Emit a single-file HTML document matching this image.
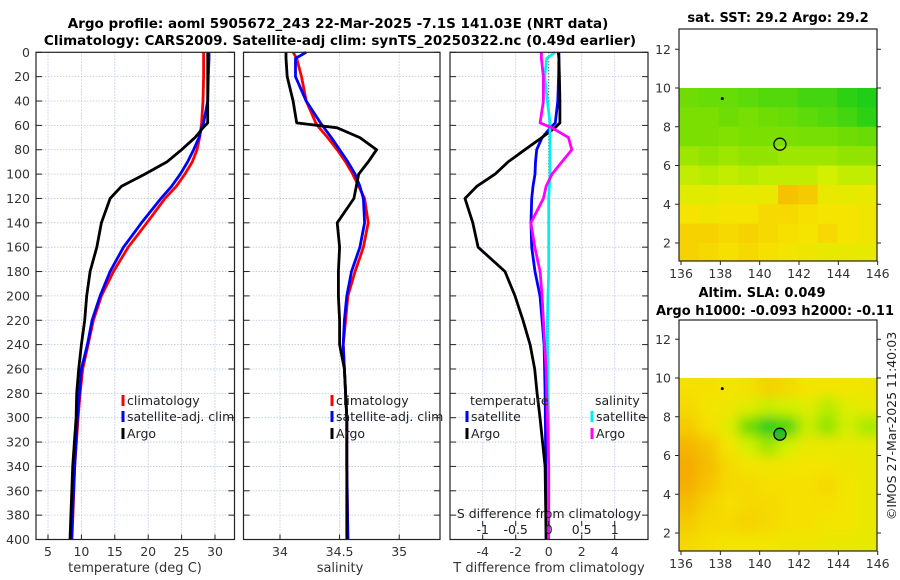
<!DOCTYPE html>
<html><head><meta charset="utf-8">
<style>
html,body{margin:0;padding:0;background:#fff;}
svg{display:block;font-family:"DejaVu Sans","Liberation Sans",sans-serif;}
</style></head>
<body>
<svg id="fig" width="900" height="580" viewBox="0 0 900 580" xmlns="http://www.w3.org/2000/svg">
<defs>
<filter id="blur" x="-10%" y="-10%" width="120%" height="120%"><feGaussianBlur stdDeviation="6"/></filter>
<clipPath id="clipTop"><rect x="679" y="88" width="198" height="173"/></clipPath>
<clipPath id="clipBot"><rect x="679" y="378" width="198" height="173"/></clipPath>
</defs>
<text x="338" y="28" text-anchor="middle" font-weight="bold" font-size="13.5">Argo profile: aoml 5905672_243 22-Mar-2025 -7.1S 141.03E (NRT data)</text>
<text x="340" y="45" text-anchor="middle" font-weight="bold" font-size="13.5">Climatology: CARS2009. Satellite-adj clim: synTS_20250322.nc (0.49d earlier)</text>
<text x="778" y="22" text-anchor="middle" font-weight="bold" font-size="13">sat. SST: 29.2 Argo: 29.2</text>
<text x="762" y="297" text-anchor="middle" font-weight="bold" font-size="13">Altim. SLA: 0.049</text>
<text x="775" y="315" text-anchor="middle" font-weight="bold" font-size="13">Argo h1000: -0.093 h2000: -0.11</text>
<text transform="translate(896,426) rotate(-90)" text-anchor="middle" font-size="12.5" fill="#222">©IMOS 27-Mar-2025 11:40:03</text>
<g id="plots"></g>
</svg>
<script>
// ---- depth levels (m) ----
const depths = [0,5,20,40,58,62,70,80,90,100,110,120,140,160,180,200,220,240,260,280,300,340,400];
// Panel 1: temperature (deg C)
const tempClim = [28.3,28.3,28.3,28.2,28.0,27.9,27.7,27.3,26.6,25.5,24.2,22.5,19.8,17.0,14.8,13.0,11.8,11.0,10.2,9.8,9.5,9.0,8.6];
const tempSat  = [29.1,29.1,29.0,28.9,28.3,28.0,27.6,26.8,25.9,24.8,23.5,21.9,19.0,16.3,14.3,12.8,11.6,10.9,10.0,9.7,9.4,9.0,8.5];
const tempArgo = [28.9,28.9,28.9,28.9,28.9,28.2,27.0,25.0,22.8,19.5,16.0,14.3,13.0,12.3,11.3,10.8,10.5,10.0,9.6,9.3,9.2,8.7,8.3];
// Panel 2: salinity
const salClim = [34.11,34.14,34.18,34.22,34.30,34.33,34.40,34.48,34.55,34.61,34.66,34.71,34.74,34.70,34.63,34.57,34.55,34.53,34.54,34.55,34.56,34.56,34.57];
const salSat  = [34.22,34.13,34.13,34.22,34.34,34.37,34.43,34.50,34.57,34.63,34.67,34.70,34.71,34.67,34.60,34.56,34.54,34.53,34.54,34.55,34.56,34.56,34.57];
const salArgo = [34.05,34.05,34.06,34.11,34.14,34.48,34.67,34.81,34.74,34.66,34.64,34.62,34.48,34.50,34.49,34.49,34.50,34.50,34.54,34.55,34.56,34.56,34.56];
// Panel 3: differences from climatology
const tDiffSat  = [0.62,0.62,0.6,0.55,0.4,0.1,-0.4,-0.73,-0.8,-0.83,-0.95,-1.03,-1.07,-1.03,-0.83,-0.53,-0.4,-0.28,-0.25,-0.22,-0.2,-0.18,-0.15];
const tDiffArgo = [0.58,0.62,0.65,0.68,0.68,0.38,-0.42,-1.44,-2.46,-3.25,-4.36,-5.07,-4.6,-4.28,-2.65,-2.04,-1.56,-1.13,-0.85,-0.7,-0.53,-0.22,-0.16];
const sDiffSat  = [0.095,-0.03,-0.06,-0.02,0.02,0.02,0.02,0.02,0.02,0.02,0.01,0.0,0.0,0.0,0.0,-0.01,-0.02,-0.02,-0.01,-0.01,0.0,0.0,0.0];
const sDiffArgo = [-0.11,-0.11,-0.08,-0.08,-0.13,0.05,0.30,0.35,0.20,0.05,-0.04,-0.08,-0.27,-0.21,-0.13,-0.1,-0.08,-0.06,-0.04,-0.03,-0.02,0.0,0.0];
// ticks
const depthTicks = [0,20,40,60,80,100,120,140,160,180,200,220,240,260,280,300,320,340,360,380,400];
const tempTicks = [5,10,15,20,25,30];
const salTicks = [34,34.5,35];
const salTickLabels = ["34","34.5","35"];
const tDiffTicks = [-4,-2,0,2,4];
const sDiffTicks = [-1,-0.5,0,0.5,1];
const sDiffTickLabels = ["-1","-0.5","0","0.5","1"];
// map grids (rows lat 10 -> 1, cols lon 136 -> 146), value 0=green .. 1=orange
const sstGrid = [
 [0.3,0.28,0.28,0.25,0.22,0.22,0.18,0.18,0.12,0.08],
 [0.33,0.33,0.3,0.32,0.3,0.28,0.25,0.22,0.18,0.12],
 [0.33,0.33,0.35,0.33,0.33,0.33,0.32,0.32,0.3,0.28],
 [0.4,0.38,0.4,0.38,0.38,0.4,0.4,0.4,0.38,0.38],
 [0.47,0.45,0.47,0.45,0.47,0.47,0.47,0.5,0.47,0.47],
 [0.56,0.56,0.6,0.58,0.6,0.75,0.72,0.6,0.58,0.6],
 [0.65,0.62,0.65,0.65,0.68,0.68,0.66,0.65,0.65,0.62],
 [0.7,0.7,0.68,0.7,0.68,0.66,0.65,0.68,0.65,0.62],
 [0.7,0.68,0.66,0.68,0.66,0.64,0.62,0.6,0.6,0.58]];
const slaGrid = [
 [0.66,0.66,0.65,0.66,0.7,0.68,0.65,0.64,0.64,0.62],
 [0.68,0.64,0.62,0.55,0.48,0.5,0.55,0.45,0.55,0.58],
 [0.72,0.66,0.55,0.3,0.05,0.2,0.48,0.38,0.5,0.42],
 [0.78,0.74,0.64,0.5,0.4,0.5,0.6,0.6,0.6,0.58],
 [0.82,0.76,0.68,0.64,0.62,0.64,0.64,0.64,0.62,0.6],
 [0.8,0.74,0.68,0.68,0.66,0.66,0.66,0.68,0.64,0.6],
 [0.76,0.7,0.66,0.68,0.68,0.66,0.66,0.66,0.64,0.6],
 [0.72,0.68,0.68,0.7,0.68,0.66,0.66,0.64,0.64,0.6],
 [0.68,0.66,0.64,0.64,0.64,0.62,0.62,0.6,0.6,0.58]];
const mapLatTicks = [2,4,6,8,10,12];
const mapLonTicks = [136,138,140,142,144,146];
const floatLon = 141.03, floatLat = 7.1;

const NS = "http://www.w3.org/2000/svg";
const root = document.getElementById('plots');
function el(tag, attrs, parent, text){
  const e = document.createElementNS(NS, tag);
  for (const k in attrs) e.setAttribute(k, attrs[k]);
  if (text !== undefined) e.textContent = text;
  (parent||root).appendChild(e); return e;
}
const Y0 = 52.3, Y1 = 539.5;
const yD = d => Y0 + d*(Y1-Y0)/400;
function lin(d0,d1,r0,r1){ return v => r0 + (v-d0)*(r1-r0)/(d1-d0); }

function panel(name, x0, x1, xs, xticks, xlabels, showY){
  const g = el('g', {});
  
  
  xticks.forEach(t => el('line',{x1:xs(t),x2:xs(t),y1:Y0,y2:Y1,stroke:'#b8c4e0','stroke-width':0.8,'stroke-dasharray':'1.5,1.5'},g));
  depthTicks.forEach(d => {
    if (d>0 && d<400) el('line',{x1:x0,x2:x1,y1:yD(d),y2:yD(d),stroke:'#b8c4e0','stroke-width':0.8,'stroke-dasharray':'1.5,1.5'},g);
    el('line',{x1:x0,x2:x0+6,y1:yD(d),y2:yD(d),stroke:'#222','stroke-width':1},g);
    el('line',{x1:x1-6,x2:x1,y1:yD(d),y2:yD(d),stroke:'#222','stroke-width':1},g);
    if (showY){ const t = el('text',{x:x0-6,y:yD(d)+4.5,'text-anchor':'end','font-size':12.5,fill:'#333'},g,String(d));
        }
  });
  if (xlabels) xticks.forEach((t,i) => {
    el('line',{x1:xs(t),x2:xs(t),y1:Y1-5,y2:Y1,stroke:'#222','stroke-width':1},g);
    const tx = el('text',{x:xs(t),y:556,'text-anchor':'middle','font-size':12.5,fill:'#333'},g,xlabels[i]);
     
  });
  return g;
}
function series(g, name, xs, vals, color){
  const pts = depths.map((d,i) => xs(vals[i]).toFixed(1)+','+yD(d).toFixed(1)).join(' ');
  const p = el('polyline',{points:pts,fill:'none',stroke:color,'stroke-width':2.8,'stroke-linejoin':'round'},g);
  
  
}
function frame(g,x0,x1){ el('rect',{x:x0,y:Y0,width:x1-x0,height:Y1-Y0,fill:'none',stroke:'#222','stroke-width':1.2},g); }
function legendItem(g,x,y,color,label){
  el('rect',{x:x-1.5,y:y-10,width:3,height:11,fill:color},g);
  const t = el('text',{x:x+4,y:y,'font-size':12.5,fill:'#222'},g,label);
   
}

// Panel 1
const xT = lin(5,30,48,215);
const g1 = panel('temperature-panel',36,234.5,xT,tempTicks,tempTicks.map(String),true);
series(g1,'temp-climatology-line',xT,tempClim,'#ff0000');
series(g1,'temp-satellite-line',xT,tempSat,'#0000ff');
series(g1,'temp-argo-line',xT,tempArgo,'#000000');
frame(g1,36,234.5);
legendItem(g1,123,405,'#ff0000','climatology');
legendItem(g1,123,421,'#0000ff','satellite-adj. clim');
legendItem(g1,123,438,'#000000','Argo');
el('text',{x:135,y:572,'text-anchor':'middle','font-size':13,fill:'#333'},g1,'temperature (deg C)');

// Panel 2
const xS = lin(34,35,280,399.2);
const g2 = panel('salinity-panel',243.5,440,xS,salTicks,salTickLabels,false);
series(g2,'sal-climatology-line',xS,salClim,'#ff0000');
series(g2,'sal-satellite-line',xS,salSat,'#0000ff');
series(g2,'sal-argo-line',xS,salArgo,'#000000');
frame(g2,243.5,440);
legendItem(g2,332,405,'#ff0000','climatology');
legendItem(g2,332,421,'#0000ff','satellite-adj. clim');
legendItem(g2,332,438,'#000000','Argo');
el('text',{x:340,y:572,'text-anchor':'middle','font-size':13,fill:'#333'},g2,'salinity');

// Panel 3
const xTD = lin(-4,4,482.7,614.7);
const xSD = lin(-1,1,482.7,614.7);
const g3 = panel('difference-panel',450,648,xTD,tDiffTicks,tDiffTicks.map(String),false);
el('line',{x1:xTD(0),x2:xTD(0),y1:Y0,y2:Y1,stroke:'#444','stroke-width':1,'stroke-dasharray':'1,2'},g3);
series(g3,'tdiff-satellite-line',xTD,tDiffSat,'#0000ff');
series(g3,'tdiff-argo-line',xTD,tDiffArgo,'#000000');
series(g3,'sdiff-satellite-line',xSD,sDiffSat,'#00f0f0');
series(g3,'sdiff-argo-line',xSD,sDiffArgo,'#ff00ff');
frame(g3,450,648);
el('text',{x:470,y:405,'font-size':12.5,fill:'#222'},g3,'temperature');
el('text',{x:595,y:405,'font-size':12.5,fill:'#222'},g3,'salinity');
legendItem(g3,467,421,'#0000ff','satellite');
legendItem(g3,467,438,'#000000','Argo');
legendItem(g3,592,421,'#00f0f0','satellite');
legendItem(g3,592,438,'#ff00ff','Argo');
el('text',{x:549,y:518,'text-anchor':'middle','font-size':12.5,fill:'#222'},g3,'S difference from climatology');
sDiffTicks.forEach((t,i)=>{
  el('line',{x1:xSD(t),x2:xSD(t),y1:521,y2:526,stroke:'#222','stroke-width':1},g3);
  el('text',{x:xSD(t),y:534,'text-anchor':'middle','font-size':12.5,fill:'#222'},g3,sDiffTickLabels[i]);
});
el('text',{x:549,y:572,'text-anchor':'middle','font-size':13,fill:'#333'},g3,'T difference from climatology');

// Maps
function cmap(v){
  const stops=[[0,[0,200,30]],[0.35,[130,225,0]],[0.5,[210,240,0]],[0.65,[245,228,0]],[0.8,[245,175,0]],[1,[240,130,0]]];
  for(let i=1;i<stops.length;i++){ if(v<=stops[i][0]){ const a=stops[i-1],b=stops[i],f=(v-a[0])/(b[0]-a[0]);
    return 'rgb('+a[1].map((c,k)=>Math.round(c+(b[1][k]-c)*f)).join(',')+')'; } }
  return 'rgb(240,130,0)';
}
function mapPanel(name, top, bottom, grid, smooth, clipId){
  const g = el('g',{});
  
  
  const L=679,R=877;
  const yL = lin(10, 2, top.y10, top.y2);
  const xL = lin(136,146,681,877.7);
  const cg = el('g',{'clip-path':'url(#'+clipId+')'},g);
  const inner = el('g', smooth?{filter:'url(#blur)'}:{}, cg);
  const pad = smooth?20:0;
  grid.forEach((row,r)=>row.forEach((v,c)=>{
    let x0 = L + c*(R-L)/10, x1 = L + (c+1)*(R-L)/10 + 0.6;
    let y0 = yL(10-r), y1 = yL(9-r) + 0.6;
    if (c==0) x0 -= pad; if (c==9) x1 += pad;
    if (r==0) y0 -= pad; if (r==8) y1 += pad;
    const rc = el('rect',{x:x0,y:y0,width:x1-x0,height:y1-y0,fill:cmap(v)},inner);
    
    
  }));
  el('rect',{x:L,y:bottom.yTop,width:R-L,height:bottom.yBot-bottom.yTop,fill:'none',stroke:'#222','stroke-width':1.2},g);
  mapLatTicks.forEach(t=>{
    const y=yL(t);
    el('line',{x1:L-4,x2:L,y1:y,y2:y,stroke:'#222'},g);
    el('line',{x1:R,x2:R+4,y1:y,y2:y,stroke:'#222'},g);
    el('text',{x:L-8,y:y+4.5,'text-anchor':'end','font-size':12.5,fill:'#333'},g,String(t));
  });
  mapLonTicks.forEach(t=>{
    const x=xL(t);
    el('line',{x1:x,x2:x,y1:bottom.yBot,y2:bottom.yBot+4,stroke:'#222'},g);
    el('text',{x:x,y:bottom.yBot+17,'text-anchor':'middle','font-size':12.5,fill:'#333'},g,String(t));
  });
  const c = el('circle',{cx:xL(floatLon),cy:yL(floatLat),r:6,fill:smooth?'rgba(0,160,60,0.6)':'none',stroke:'#000','stroke-width':1.3},g);
  
  
  el('circle',{cx:xL(138.1),cy:yL(9.45),r:1.5,fill:'#000'},g);
}
mapPanel('sst-map',{y10:88,y2:243},{yTop:29,yBot:261},sstGrid,false,'clipTop');
mapPanel('sla-map',{y10:378,y2:533},{yTop:320,yBot:551},slaGrid,true,'clipBot');
</script>
</body></html>
